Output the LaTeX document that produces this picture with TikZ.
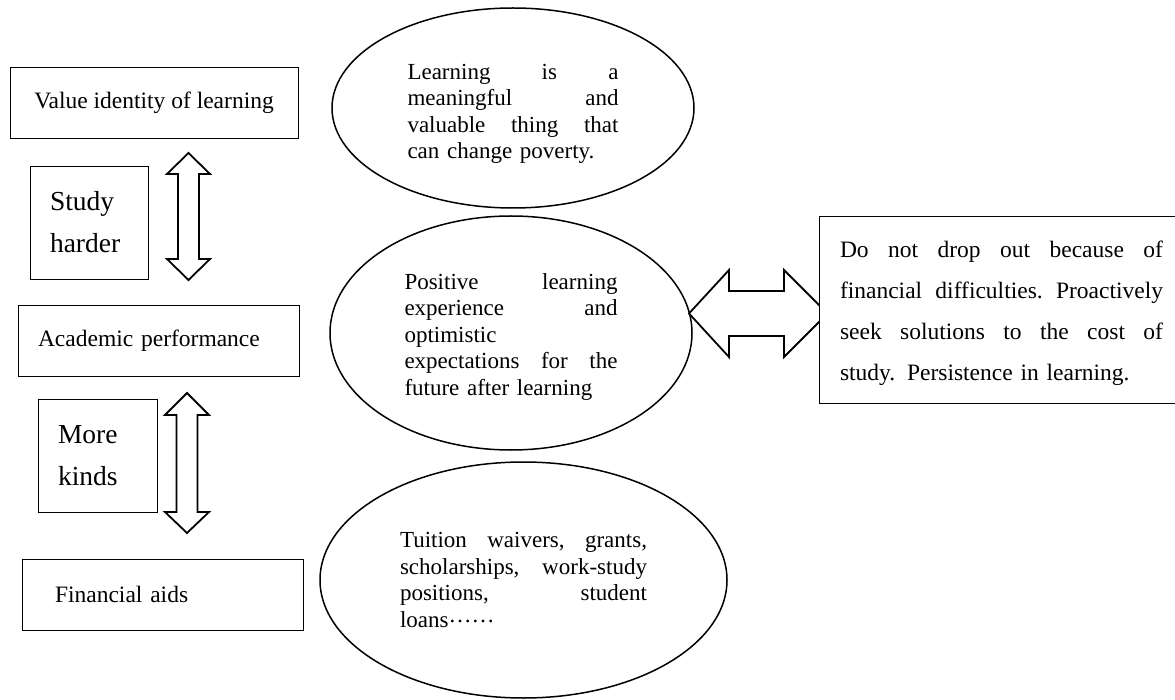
\documentclass[tikz,border=0pt]{standalone}
\usepackage{fontspec}
\setmainfont{Liberation Serif}
\usetikzlibrary{shapes.geometric}
\newcommand\justline[2]{\leavevmode\hbox to #1{#2}}
\begin{document}
\begin{tikzpicture}[x=1pt,y=-1pt,
  box/.style={draw, line width=0.9pt, rectangle, inner ysep=0pt, font=\fontsize{23.5}{27}\selectfont},
  bigbox/.style={box, font=\fontsize{27.5}{42}\selectfont},
  oval/.style={draw, ellipse, line width=1.5pt, inner sep=0pt, align=left, font=\fontsize{23}{26.5}\selectfont},
  blockarrow/.style={draw, line width=1.8pt, line join=miter, fill=white}]
\useasboundingbox (0,0) rectangle (1175,700);

% left column
\node[box, minimum width=288pt, minimum height=71pt, align=center] (value) at (154,102.5) {Value identity of learning};
\node[bigbox, minimum width=118pt, minimum height=113pt, inner xsep=20pt, text width=78pt, align=left] (harder) at (89,222.5) {Study\\harder};
\node[box, minimum width=281pt, minimum height=71pt, inner xsep=20pt, text width=241pt, align=left] (acad) at (158.5,340.5) {Academic performance};
\node[bigbox, minimum width=119pt, minimum height=113pt, inner xsep=20pt, text width=79pt, align=left] (kinds) at (97.5,455.5) {More\\kinds};
\node[box, minimum width=281pt, minimum height=71pt, inner xsep=33pt, text width=215pt, align=left] (aid) at (162.5,594.5) {Financial aids};

% vertical block arrows
\draw[blockarrow] (188.5,153) -- (210,174) -- (199,174) -- (199,259) -- (210,259) -- (188.5,280) -- (167,259) -- (178,259) -- (178,174) -- (167,174) -- cycle;
\draw[blockarrow] (187,393) -- (209,415) -- (197.5,415) -- (197.5,512) -- (209,512) -- (187,533) -- (165,512) -- (176.5,512) -- (176.5,415) -- (165,415) -- cycle;

% ellipses
\node[oval, minimum width=362pt, minimum height=200pt, text width=211pt] (e1) at (513,108)
  {\justline{211pt}{\rule{0pt}{27pt}Learning\hfill is\hfill a}\\\justline{211pt}{meaningful\hfill and}\\\justline{211pt}{valuable\hfill thing\hfill that}\\can change poverty.};
\node[oval, minimum width=362pt, minimum height=234pt, text width=213pt] (e2) at (511,333)
  {\justline{213pt}{\rule{0pt}{23pt}Positive\hfill learning}\\\justline{213pt}{experience\hfill and}\\optimistic\\\justline{213pt}{expectations\hfill for\hfill the}\\future after learning};
\node[oval, minimum width=407pt, minimum height=236pt, text width=247pt] (e3) at (523.5,580)
  {\justline{247pt}{Tuition\hfill waivers,\hfill grants,}\\\justline{247pt}{scholarships,\hfill work-study}\\\justline{247pt}{positions,\hfill student}\\loans\raisebox{0.22em}{……}};

% horizontal block arrow
\draw[blockarrow] (689,313.5) -- (729,270) -- (729,291) -- (784,291) -- (784,270) -- (827.5,313.5) -- (784,357) -- (784,336) -- (729,336) -- (729,357) -- cycle;

% right box
\node[box, fill=white, minimum height=187pt, inner xsep=21pt, text width=323pt, align=left, font=\fontsize{23.5}{41}\selectfont] (stay) at (1001.5,309.5)
  {\justline{323pt}{\rule{0pt}{25pt}Do\hfill not\hfill drop\hfill out\hfill because\hfill of}\\\justline{323pt}{financial\hfill difficulties.\hfill Proactively}\\\justline{323pt}{seek\hfill solutions\hfill to\hfill the\hfill cost\hfill of}\\study. Persistence in learning.};
\end{tikzpicture}
\end{document}
